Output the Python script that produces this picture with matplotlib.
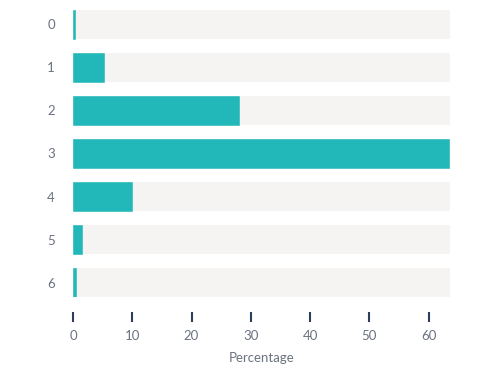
import matplotlib
matplotlib.use("Agg")
import matplotlib.pyplot as plt

categories = ["0", "1", "2", "3", "4", "5", "6"]
values = [0.3, 5.3, 28.0, 63.4, 10.0, 1.6, 0.45]
xticks = [0, 10, 20, 30, 40, 50, 60]
xlabel = "Percentage"

plt.rcParams['font.family'] = ['Lato', 'DejaVu Sans']

fig = plt.figure(figsize=(5, 3.72), dpi=100)
ax = fig.add_axes([0.146, 1 - 297 / 372, 0.9 - 0.146, (297 - 10) / 372])

pos = list(range(len(categories)))
xmax = 63.6
h = 0.674
ax.barh(pos, [xmax] * len(pos), height=h, color="#F5F4F2", zorder=1)
ax.barh(pos, values, height=h, color="#22B8BA", zorder=2, linewidth=0.4, edgecolor="#22B8BA")

ax.set_xlim(0, xmax)
ax.set_ylim(len(pos) - 1 + h / 2, -h / 2)
ax.set_yticks(pos)
ax.set_yticklabels(categories)
ax.set_xticks(xticks)
ax.set_xticklabels([str(t) for t in xticks])

for s in ax.spines.values():
    s.set_visible(False)
ax.spines['bottom'].set_position(('outward', 11))

ax.tick_params(axis='y', length=0, pad=13, labelsize=9.5, labelcolor="#6B7280")
ax.tick_params(axis='x', direction='out', length=7.5, width=1.5, color="#2C3E5A",
               pad=5.5, labelsize=9.5, labelcolor="#6B7280")
ax.set_xlabel(xlabel, fontsize=9.5, color="#6B7280", labelpad=7)

fig.savefig("out.png", dpi=100)
